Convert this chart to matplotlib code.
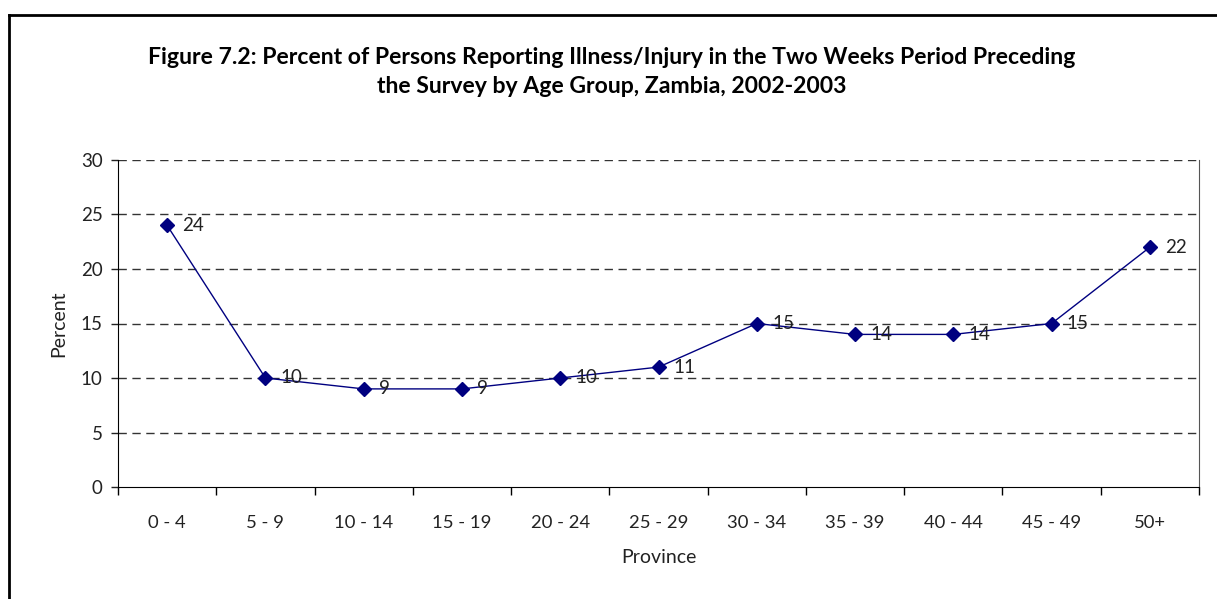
import matplotlib
matplotlib.use('Agg')
import matplotlib.pyplot as plt
from matplotlib.lines import Line2D

# data
age_groups = ['0 - 4', '5 - 9', '10 - 14', '15 - 19', '20 - 24', '25 - 29',
              '30 - 34', '35 - 39', '40 - 44', '45 - 49', '50+']
percent_ill = [24, 10, 9, 9, 10, 11, 15, 14, 14, 15, 22]
y_ticks = [0, 5, 10, 15, 20, 25, 30]

plt.rcParams['font.family'] = ['Lato', 'DejaVu Sans']

fig = plt.figure(figsize=(12.17, 5.99), dpi=100)
ax = fig.add_axes([118/1217, 1 - 487/599, (1199 - 118)/1217, (487 - 160)/599])

x = list(range(len(age_groups)))
ax.plot(x, percent_ill, color='#000080', lw=1, marker='D', markersize=7,
        markerfacecolor='#000080', markeredgecolor='#000080', zorder=3)

# value labels to the right of each point
for xi, v in zip(x, percent_ill):
    ax.annotate(str(v), (xi, v), xytext=(11, 0), textcoords='offset points',
                ha='left', va='center', fontsize=13.5, color='#222222', zorder=4)

ax.set_xlim(-0.5, len(age_groups) - 0.5)
ax.set_ylim(0, 30)
ax.set_yticks(y_ticks)
ax.set_xticks(x)
ax.set_xticklabels(age_groups)
ax.tick_params(axis='x', length=0, pad=20, labelsize=13.3, colors='#222222')
ax.tick_params(axis='y', length=5, width=1, pad=6, labelsize=13.5, colors='#222222')
# category boundary ticks on x
ax.set_xticks([i - 0.5 for i in range(len(age_groups) + 1)], minor=True)
ax.tick_params(axis='x', which='minor', length=6, width=1, direction='out', color='black')

# dashed gridlines
for yv in y_ticks[1:]:
    ax.axhline(yv, color='#333333', lw=1, ls=(0, (6, 4)), zorder=1)

ax.spines['top'].set_visible(False)
ax.spines['left'].set_color('black')
ax.spines['bottom'].set_color('black')
ax.spines['right'].set_color('#555555')

ax.set_ylabel('Percent', fontsize=14, color='#222222', labelpad=10)
ax.set_xlabel('Province', fontsize=14, color='#222222', labelpad=13)

fig.text(612/1217, 1 - 72/599,
         'Figure 7.2: Percent of Persons Reporting Illness/Injury in the Two Weeks Period Preceding\n'
         'the Survey by Age Group, Zambia, 2002-2003',
         ha='center', va='center', fontsize=16.6, fontweight='bold', linespacing=1.5)

# outer frame (only top and left edges visible in the crop)
fig.add_artist(Line2D([9/1217, 1], [1 - 15/599, 1 - 15/599], color='black', lw=2,
                      transform=fig.transFigure))
fig.add_artist(Line2D([9/1217, 9/1217], [0, 1 - 15/599], color='black', lw=2,
                      transform=fig.transFigure))

fig.savefig('out.png', dpi=100)
